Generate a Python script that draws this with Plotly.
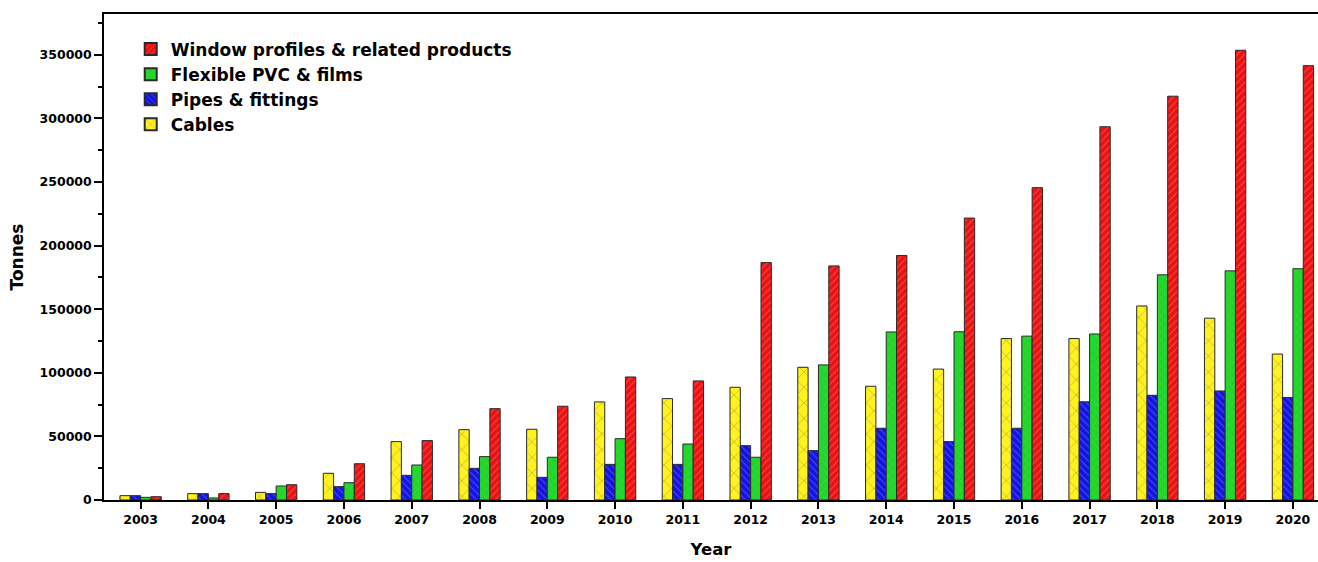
import plotly.graph_objects as go

years = [str(y) for y in range(2003, 2021)]
cables = [3400, 5000, 6000, 21000, 45900, 55300, 55600, 77100, 79700, 88600,
          104300, 89400, 102900, 126900, 126900, 152500, 142900, 114700]
pipes = [3400, 5000, 5000, 10500, 19400, 24900, 17800, 28000, 28000, 42700,
         38800, 56400, 45900, 56400, 77200, 82300, 85700, 80600]
flexible = [2100, 1600, 11000, 13600, 27500, 34100, 33600, 48200, 44000, 33600,
            106200, 132100, 132200, 128800, 130500, 177000, 180100, 181800]
window = [2600, 5000, 12000, 28500, 46700, 71800, 73700, 96700, 93600, 186600,
          184000, 192200, 221600, 245500, 293400, 317400, 353500, 341400]

series = [
    ("Cables", cables, "#FFF21E", "#6E6E3A", "x", 11, 0.12),
    ("Pipes & fittings", pipes, "#1414E0", "#8C8CFF", "\\", 5, 0.2),
    ("Flexible PVC & films", flexible, "#22D52A", "#5FE064", "x", 6, 0.15),
    ("Window profiles & related products", window, "#EA1212", "#FF8C8C", "/", 5, 0.2),
]

fig = go.Figure()
for name, vals, bg, fg, shape, size, sol in series:
    fig.add_trace(go.Bar(
        x=years, y=vals, name=name,
        marker=dict(color=bg,
                    line=dict(color="#2a2a2a", width=1),
                    pattern=dict(shape=shape, fgcolor=fg, bgcolor=bg,
                                 size=size, solidity=sol, fillmode="overlay")),
    ))

font_family = "DejaVu Sans, Liberation Sans, sans-serif"
fig.update_layout(
    width=1318, height=562,
    margin=dict(l=104, r=0, t=14, b=62),
    paper_bgcolor="white", plot_bgcolor="white",
    barmode="group", bargap=0.39, bargroupgap=0,
    font=dict(family=font_family, color="black", size=13),
    showlegend=True,
    legend=dict(x=0.022, y=0.964, xanchor="left", yanchor="top",
                traceorder="reversed", bgcolor="rgba(0,0,0,0)",
                font=dict(size=17, family=font_family, color="black", weight="bold"),
                itemsizing="constant", tracegroupgap=0),
    xaxis=dict(type="category", range=[-0.54, 17.37],
               showline=True, linecolor="black", linewidth=2, mirror=True,
               ticks="outside", ticklen=7, tickwidth=1.5, tickcolor="black",
               showgrid=False, zeroline=False,
               tickfont=dict(size=12.5, weight="bold"),
               title=dict(text="Year", font=dict(size=16.5, weight="bold"), standoff=17)),
    yaxis=dict(range=[0, 382000], showline=True, linecolor="black", linewidth=1.5,
               ticks="outside", ticklen=8, tickwidth=1.5, tickcolor="black",
               dtick=50000, tick0=0, showgrid=False, zeroline=False,
               tickformat="d",
               minor=dict(dtick=25000, ticks="outside", ticklen=4, tickcolor="black"),
               tickfont=dict(size=12.5, weight="bold"),
               title=dict(text="Tonnes", font=dict(size=17, weight="bold"), standoff=12)),
)

fig.write_html("out.html")
